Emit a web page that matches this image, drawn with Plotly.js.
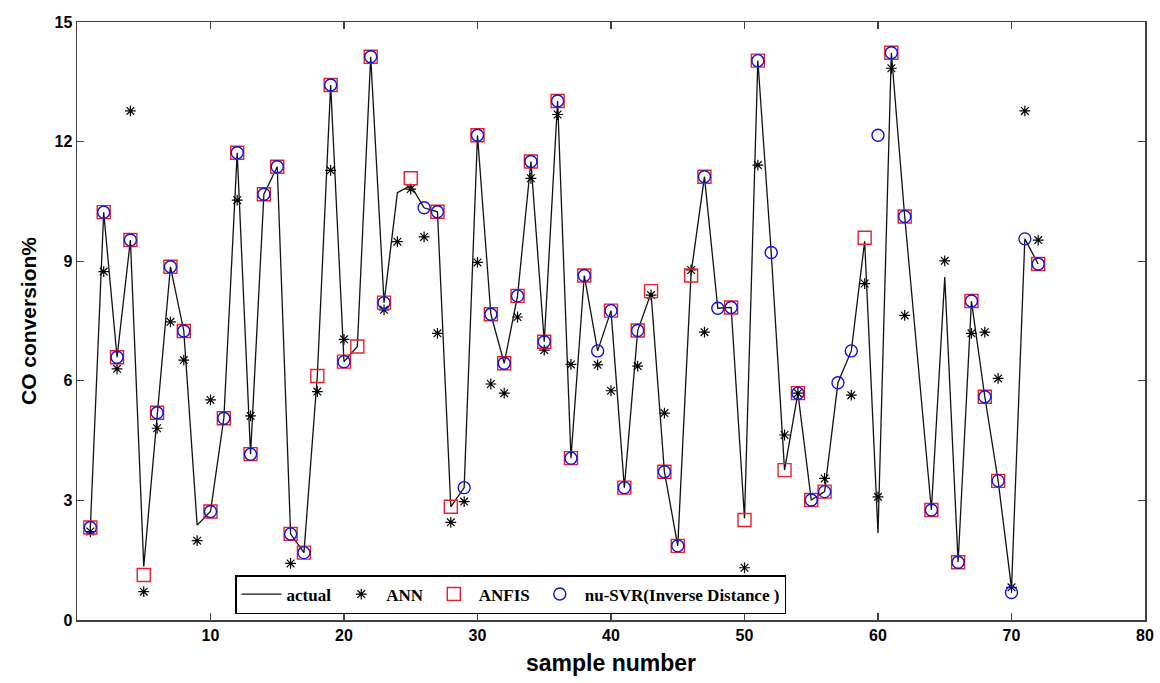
<!DOCTYPE html>
<html>
<head>
<meta charset="utf-8">
<script src="https://cdn.plot.ly/plotly-3.0.1.min.js"></script>
<style>html,body{margin:0;padding:0;background:#fff;}#chart{width:1160px;height:683px;}</style>
</head>
<body>
<div id="chart"></div>
<script>
// sample numbers 1..72
const sampleNumbers = [1,2,3,4,5,6,7,8,9,10,11,12,13,14,15,16,17,18,19,20,21,22,23,24,25,26,27,28,29,30,31,32,33,34,35,36,37,38,39,40,41,42,43,44,45,46,47,48,49,50,51,52,53,54,55,56,57,58,59,60,61,62,63,64,65,66,67,68,69,70,71,72];

const actual = [2.32,10.23,6.59,9.53,1.34,5.2,8.86,7.25,2.38,2.72,5.06,11.72,4.16,10.68,11.37,2.16,1.69,6.12,13.42,6.48,6.86,14.13,7.96,10.72,10.9,10.34,10.24,2.84,3.32,12.16,7.67,6.44,8.13,11.5,6.98,13.02,4.06,8.64,6.75,7.76,3.32,7.26,8.2,3.72,1.86,8.7,11.12,7.82,7.84,2.55,14.03,9.22,3.76,5.69,3.01,3.22,5.95,6.75,9.5,2.18,14.23,10.12,6.4,2.76,8.6,1.45,8.0,5.6,3.49,0.8,9.56,8.93];

const ann = [2.22,8.74,6.3,12.77,0.71,4.81,7.48,6.52,1.99,5.52,null,10.53,5.12,null,null,1.42,null,5.73,11.28,7.04,null,null,7.78,9.49,10.81,9.61,7.19,2.45,2.97,8.97,5.92,5.69,7.6,11.08,6.77,12.68,6.41,null,6.4,5.75,null,6.37,8.15,5.19,null,8.78,7.22,null,null,1.31,11.41,null,4.64,5.69,null,3.55,null,5.64,8.44,3.09,13.84,7.64,null,null,9.01,null,7.19,7.22,6.06,0.82,12.77,9.53];

const anfis = [2.32,10.23,6.59,9.53,1.13,5.2,8.86,7.25,null,2.72,5.06,11.72,4.16,10.68,11.37,2.16,1.69,6.12,13.42,6.48,6.86,14.13,7.96,null,11.08,null,10.24,2.84,null,12.16,7.67,6.44,8.13,11.5,6.98,13.02,4.06,8.64,null,7.76,3.32,7.26,8.25,3.72,1.86,8.64,11.12,null,7.84,2.51,14.03,null,3.76,5.69,3.01,3.22,null,null,9.59,null,14.23,10.12,null,2.76,null,1.45,8.0,5.6,3.49,null,null,8.93];

const nuSVR = [2.32,10.23,6.59,9.53,null,5.2,8.86,7.25,null,2.72,5.06,11.72,4.16,10.68,11.37,2.16,1.69,null,13.42,6.48,null,14.13,7.96,null,null,10.34,10.24,null,3.32,12.16,7.67,6.44,8.13,11.5,6.98,13.02,4.06,8.64,6.75,7.76,3.32,7.26,null,3.72,1.86,null,11.12,7.82,7.84,null,14.03,9.22,null,5.69,3.01,3.22,5.95,6.75,null,12.16,14.23,10.12,null,2.76,null,1.45,8.0,5.6,3.49,0.69,9.56,8.93];

const xTicks = [10,20,30,40,50,60,70,80];
const yTicks = [0,3,6,9,12,15];

const traces = [
  {x: sampleNumbers, y: actual, name: 'actual', mode: 'lines', type: 'scatter',
   line: {color: '#111', width: 1.3}},
  {x: sampleNumbers, y: ann, name: 'ANN', mode: 'markers', type: 'scatter',
   marker: {symbol: 'asterisk-open', size: 9, color: '#000', line: {color: '#000', width: 1.2}}},
  {x: sampleNumbers, y: anfis, name: 'ANFIS', mode: 'markers', type: 'scatter',
   marker: {symbol: 'square-open', size: 13, color: '#e8202a', line: {color: '#e8202a', width: 1.4}}},
  {x: sampleNumbers, y: nuSVR, name: 'nu-SVR(Inverse Distance )', mode: 'markers', type: 'scatter',
   marker: {symbol: 'circle-open', size: 12, color: '#1010e0', line: {color: '#1010e0', width: 1.4}}}
];

const axisCommon = {
  showgrid: false, zeroline: false, showline: true, linecolor: '#404040', linewidth: 1.5,
  mirror: 'allticks', ticks: 'inside', ticklen: 7, tickwidth: 1.2, tickcolor: '#404040',
  tickfont: {family: 'Liberation Sans, Arial, sans-serif', size: 16, color: '#000', weight: 'bold'}
};

const layout = {
  width: 1160, height: 683,
  margin: {l: 77, r: 15, t: 22, b: 63},
  paper_bgcolor: '#fff', plot_bgcolor: '#fff',
  showlegend: true,
  xaxis: Object.assign({}, axisCommon, {
    range: [0, 80], tickvals: xTicks, ticktext: xTicks.map(String),
    title: {text: 'sample number', standoff: 12,
      font: {family: 'Liberation Sans, Arial, sans-serif', size: 23, color: '#000', weight: 'bold'}}
  }),
  yaxis: Object.assign({}, axisCommon, {
    range: [0, 15], tickvals: yTicks, ticktext: yTicks.map(String),
    title: {text: 'CO conversion%', standoff: 12,
      font: {family: 'Liberation Sans, Arial, sans-serif', size: 21, color: '#000', weight: 'bold'}}
  }),
  legend: {
    orientation: 'h', x: 0.148, y: 0.01, xanchor: 'left', yanchor: 'bottom',
    bgcolor: '#fff', bordercolor: '#000', borderwidth: 1.5,
    font: {family: 'Liberation Serif, Times New Roman, serif', size: 17, color: '#000', weight: 'bold'},
    itemwidth: 40, tracegroupgap: 0
  }
};

Plotly.newPlot('chart', traces, layout, {displayModeBar: false, staticPlot: true});
</script>
</body>
</html>
